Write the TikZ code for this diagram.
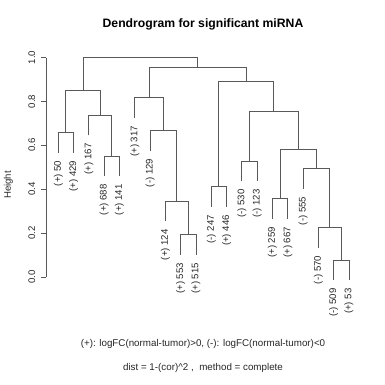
\documentclass[tikz,border=0pt]{standalone}
\usepackage{fontspec}
\setmainfont{Liberation Sans}
\usetikzlibrary{calc}
\tikzset{
  br/.style      ={draw=black!65, line width=1pt},
  leaflbl/.style ={rotate=90, anchor=east, inner sep=0pt, text=black!85, font=\fontsize{9.6}{11}\selectfont},
  ticklbl/.style ={rotate=90, anchor=center, inner sep=0pt, text=black!85, font=\fontsize{9.6}{11}\selectfont},
  txt/.style     ={inner sep=0pt, text=black!85, font=\fontsize{9.8}{12}\selectfont},
  ttl/.style     ={inner sep=0pt, text=black, font=\fontsize{12.2}{14}\selectfont\bfseries},
}
\begin{document}
\begin{tikzpicture}[x=1pt, y=1pt]
  \useasboundingbox (0,0) rectangle (385,384);
  \node[ttl] (title) at (203,360) {Dendrogram for significant miRNA};
  \node[txt] (note) at (203,39.7) {(+): logFC(normal-tumor)>0, (-): logFC(normal-tumor)<0};
  \node[txt] (dist) at (203,16.3) {dist = 1-(cor)\textasciicircum 2 ,\ \ method = complete};
  \node[ticklbl] (ylab) at (8.5,199) {Height};
  \begin{scope}[shift={(43pt,107pt)}, x=15.3pt, y=219.5pt]
    % y axis
    \draw[br] (0.216,0) -- (0.216,1);
    \foreach \v in {0.0,0.2,0.4,0.6,0.8,1.0} {
      \draw[br] (0.216,\v) -- ++(-5.5pt,0);
      \node[ticklbl] (tk\v) at ($(0.216,\v)+(-14.6pt,0)$) {\v};
    }
    % leaves
    \foreach \i/\lab/\h in {1/{(+) 50}/0.567, 2/{(+) 429}/0.567, 3/{(+) 167}/0.645,
        4/{(+) 688}/0.459, 5/{(+) 141}/0.459, 6/{(+) 317}/0.725, 7/{(-) 129}/0.576,
        8/{(+) 124}/0.254, 9/{(+) 553}/0.101, 10/{(+) 515}/0.101, 11/{(-) 247}/0.319,
        12/{(+) 446}/0.319, 13/{(-) 530}/0.436, 14/{(-) 123}/0.436, 15/{(+) 259}/0.265,
        16/{(+) 667}/0.265, 17/{(-) 555}/0.403, 18/{(-) 570}/0.134, 19/{(-) 509}/-0.015,
        20/{(+) 53}/-0.015} {
      \coordinate (t\i) at (\i,\h);
      \node[leaflbl] (l\i) at ($(t\i)+(0,-8pt)$) {\lab};
    }
    % merge points
    \coordinate (m1)  at (1.5,0.659);
    \coordinate (m2)  at (4.5,0.551);
    \coordinate (m3)  at (3.75,0.737);
    \coordinate (m4)  at (2.625,0.851);
    \coordinate (m5)  at (9.5,0.193);
    \coordinate (m6)  at (8.75,0.346);
    \coordinate (m7)  at (7.875,0.668);
    \coordinate (m8)  at (6.9375,0.817);
    \coordinate (m9)  at (11.5,0.411);
    \coordinate (m10) at (13.5,0.528);
    \coordinate (m11) at (15.5,0.357);
    \coordinate (m12) at (19.5,0.077);
    \coordinate (m13) at (18.75,0.226);
    \coordinate (m14) at (17.875,0.495);
    \coordinate (m15) at (16.6875,0.582);
    \coordinate (m16) at (15.094,0.755);
    \coordinate (m17) at (13.297,0.891);
    \coordinate (m18) at (10.117,0.954);
    \coordinate (m19) at (6.371,1.0);
    % branches
    \draw[br] (t1) |- (m1) -| (t2);
    \draw[br] (t4) |- (m2) -| (t5);
    \draw[br] (t3) |- (m3) -| (m2);
    \draw[br] (m1) |- (m4) -| (m3);
    \draw[br] (t9) |- (m5) -| (t10);
    \draw[br] (t8) |- (m6) -| (m5);
    \draw[br] (t7) |- (m7) -| (m6);
    \draw[br] (t6) |- (m8) -| (m7);
    \draw[br] (t11) |- (m9) -| (t12);
    \draw[br] (t13) |- (m10) -| (t14);
    \draw[br] (t15) |- (m11) -| (t16);
    \draw[br] (t19) |- (m12) -| (t20);
    \draw[br] (t18) |- (m13) -| (m12);
    \draw[br] (t17) |- (m14) -| (m13);
    \draw[br] (m11) |- (m15) -| (m14);
    \draw[br] (m10) |- (m16) -| (m15);
    \draw[br] (m9) |- (m17) -| (m16);
    \draw[br] (m8) |- (m18) -| (m17);
    \draw[br] (m4) |- (m19) -| (m18);
  \end{scope}
\end{tikzpicture}
\end{document}
